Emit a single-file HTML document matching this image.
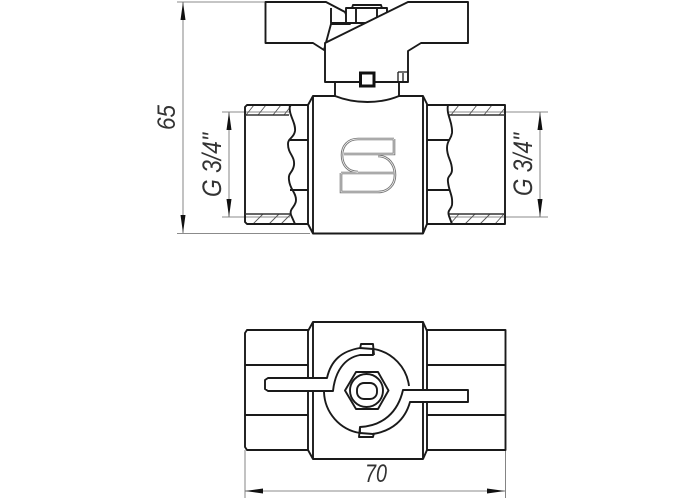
<!DOCTYPE html>
<html><head><meta charset="utf-8"><style>
html,body{margin:0;padding:0;background:#fff}svg{display:block}
text{font-family:"Liberation Sans",sans-serif;font-style:italic;fill:#333}
.k{fill:none;stroke:#1a1a1a;stroke-width:1.9;stroke-linejoin:round}
.w{fill:#fff;stroke:#1a1a1a;stroke-width:1.9;stroke-linejoin:round}
.d{fill:none;stroke:#666;stroke-width:.8}
.h{fill:none;stroke:#555;stroke-width:.9}
</style></head><body>
<svg width="700" height="500" viewBox="0 0 700 500" xmlns="http://www.w3.org/2000/svg">
<!-- dimensions -->
<path class="d" d="M177 2H266M177 233.500H310M183 2V233M222 112H290M222 217H290M229 112V217M449 112H548M449 217H548M540 112V217M245 450V498M505.500 450V498M245 491H505"/>
<path fill="#111" d="M183 2L180.500 20H185.500ZM183 233L180.500 215H185.500ZM229 112L226.500 130H231.500ZM229 217L226.500 199H231.500ZM540 112L537.500 130H542.500ZM540 217L537.500 199H542.500ZM245 491L263 488.500V493.500ZM505 491L487 488.500V493.500Z"/>
<text transform="translate(175 130) rotate(-90)" font-size="25" textLength="25" lengthAdjust="spacingAndGlyphs">65</text>
<text transform="translate(221 197) rotate(-90)" font-size="27" textLength="64" lengthAdjust="spacingAndGlyphs">G 3/4"</text>
<text transform="translate(532 196) rotate(-90)" font-size="27" textLength="63" lengthAdjust="spacingAndGlyphs">G 3/4"</text>
<text x="365" y="482" font-size="25" textLength="22" lengthAdjust="spacingAndGlyphs">70</text>

<!-- top view: hatching -->
<path class="h" d="M246 115L254 105M258 115L266 105M273 115L281 105M284 115L291 106M253 224L263 214M269 224L279 214M281 224L291 214M451 115L459 105M469 115L477 105M484 115L492 105M499 115L505 108M450 224L459 214M465 224L475 214M480 224L490 214M495 224L504 214"/>
<!-- pipes -->
<path class="k" d="M308 105H247L245 107V222L247 224H308"/>
<path class="k" d="M427 105H505V224H427"/>
<path fill="none" stroke="#333" stroke-width="1.500" d="M245 115H289M245 214H290M449 115H505M449 214H505"/>
<path class="k" d="M290 105C288 115 296 122 295 131C294 138 288 138 288 144C288 154 295 156 294 165C293 173 288 172 289 180C290 190 296 192 296 200C296 207 289 208 291 215L295 224"/>
<path class="k" d="M448 105C446 115 453 122 452 133C451 140 447 140 447 148C447 158 452 160 452 170C452 176 447 175 448 182C449 192 453 195 452 205C451 210 447 210 449 216L452 224"/>
<path class="k" d="M290 140H308M290 190H308M427 140H449M427 190H449"/>
<!-- body -->
<path class="w" d="M313 96H423L427 104V224L423 233.500H313L308 224V105Z"/>
<path class="k" d="M313 96V233.500M423 96V233.500"/>
<!-- S logo -->
<path fill="none" style="stroke:#777;stroke-width:2.600" d="M394 139H358C348 139 342 146 342 155C342 165 348 172 358 172M394 139V154H344M341 173V192H378C388 192 395 185 395 175C395 164 388 156 378 156M341 173H394"/>
<path fill="none" style="stroke:#fff;stroke-width:.7" d="M394 139H358C348 139 342 146 342 155C342 165 348 172 358 172M394 139V154H344M341 173V192H378C388 192 395 185 395 175C395 164 388 156 378 156M341 173H394"/>
<!-- stem -->
<path class="w" d="M335 80V96C355 104 380 104 399 96V80Z"/>
<!-- left wing, nut -->
<path class="w" d="M265.500 2H326L345 12L350 24H331L324 50L313 43H265.500Z"/>
<path class="k" d="M331 8V23H362"/>
<path class="w" d="M346 23V8H352L353 5H381L382 8H387V23Z"/>
<path class="k" d="M356 8V23M377 8V23M352 8H382"/>
<!-- handle -->
<path class="w" d="M325 43L408 2H468V43H421L408 51V82H325Z"/>
<rect x="360.500" y="73" width="13.500" height="13" fill="#fff" stroke="#111" stroke-width="3"/>
<path class="k" style="stroke-width:1.300" d="M398 72H408M398 72V82M403 73V82"/>

<!-- bottom view -->
<path class="k" d="M308 330H247L245 333V447L247 450H308M245 365H308M245 415H308"/>
<path class="k" d="M427 330H505.500V450H427M427 365H505.500M427 415H505.500"/>
<path class="w" d="M313 322H423L427 331V450L423 459H313L308 450V331Z"/>
<path class="k" d="M313 322V459M423 322V459"/>
<!-- circle parts -->
<path class="k" d="M374 349A43 43 0 0 1 409 386M324 392A43 43 0 0 0 360 433"/>
<!-- left handle -->
<path class="w" d="M268 378H327C331 360 342 351 360 348L373 349V355L360 355C344 358 335 372 333 391H268L265 389V380Z"/>
<path class="w" d="M468 390V402H410C405 420 392 431 373 434L360 433V427C383 426 398 412 403 390Z"/>
<!-- tabs -->
<path class="k" d="M360 349L361 344H373L374 355M360 427L359 437H373L374 433"/>
<!-- nut -->
<polygon class="k" points="345,390.500 356,372 378,372 388.500,390.500 378,409 356,409"/>
<circle class="k" cx="366.500" cy="390.500" r="16.500"/>
<rect class="k" x="357" y="383" width="20" height="16" rx="7"/>
</svg>
</body></html>
